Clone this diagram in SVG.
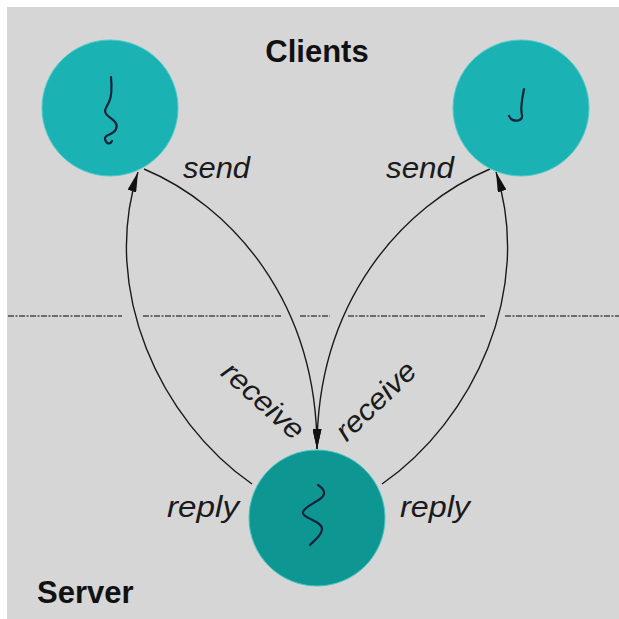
<svg xmlns="http://www.w3.org/2000/svg" width="619" height="619" viewBox="0 0 619 619">
  <style>
    .panel { fill: #d6d6d6; }
    .divider { stroke: #4a4a4a; stroke-width: 1.4; stroke-dasharray: 6 1.5 2 1.5; fill: none; }
    .conn { fill: none; stroke: #1a1a1a; stroke-width: 1.4; marker-end: url(#arrow); }
    .client { fill: #1ab2b2; stroke: #52cccc; stroke-width: 1; }
    .server { fill: #0e9792; stroke: #4cc6c4; stroke-width: 1; }
    .thread { fill: none; stroke: #14233a; stroke-width: 2.2; stroke-linecap: round; stroke-linejoin: round; }
    .title { font-family: "Liberation Sans", Arial, sans-serif; font-weight: bold; font-size: 31px; fill: #111; }
    .label { font-family: "Liberation Sans", Arial, sans-serif; font-style: italic; font-size: 29px; fill: #1a1a1a; }
  </style>
  <defs>
    <marker id="arrow" markerUnits="userSpaceOnUse" markerWidth="20" markerHeight="9" refX="20" refY="4.5" orient="auto" viewBox="0 0 20 9">
      <path d="M0,0 L20,4.5 L0,9 z" fill="#111"/>
    </marker>
  </defs>

  <!-- background panel -->
  <rect class="panel" x="7" y="7" width="612" height="612"/>

  <!-- client / server boundary -->
  <g id="divider">
    <line class="divider" x1="8" y1="316" x2="122" y2="316"/>
    <line class="divider" x1="143" y1="316" x2="282" y2="316"/>
    <line class="divider" x1="300" y1="316" x2="330" y2="316"/>
    <line class="divider" x1="348" y1="316" x2="485" y2="316"/>
    <line class="divider" x1="505" y1="316" x2="619" y2="316"/>
  </g>

  <!-- message connectors -->
  <g id="connectors">
    <path id="send-left" class="conn" d="M144,169 C230,205 317,300 317,449"/>
    <path id="send-right" class="conn" d="M490,169 C404,205 317,300 317,449"/>
    <path id="reply-left" class="conn" d="M252,484 C160,420 100,290 138,172"/>
    <path id="reply-right" class="conn" d="M382,484 C474,420 534,290 496,172"/>
  </g>

  <!-- client processes -->
  <g id="client-left">
    <circle class="client" cx="110" cy="108" r="68"/>
    <path class="thread" d="M111,77 C112,88 112,96 109,102 S103,111 107,115 S119,122 116,129 S104,134 105,139 S110,145 112,141"/>
  </g>
  <g id="client-right">
    <circle class="client" cx="521" cy="108" r="68"/>
    <path class="thread" d="M524,89 C522,100 520,108 522,115 C523,121 515,122 511,119 L509,116"/>
  </g>

  <!-- server process -->
  <g id="server">
    <circle class="server" cx="317" cy="518" r="68"/>
    <path class="thread" d="M318,485 C324,489 327,494 320,499 S299,510 304,515 S322,522 322,529 S313,541 310,545"/>
  </g>

  <!-- labels -->
  <g id="labels">
    <text class="title" x="317" y="62" text-anchor="middle">Clients</text>
    <text class="title" x="37" y="603">Server</text>
    <text class="label" x="183" y="178" textLength="67" lengthAdjust="spacingAndGlyphs">send</text>
    <text class="label" x="386" y="178" textLength="68" lengthAdjust="spacingAndGlyphs">send</text>
    <text class="label" x="167" y="517" textLength="72" lengthAdjust="spacingAndGlyphs">reply</text>
    <text class="label" x="400" y="517" textLength="70" lengthAdjust="spacingAndGlyphs">reply</text>
    <text class="label" transform="translate(262,402) rotate(42)" x="0" y="8" text-anchor="middle" textLength="100" lengthAdjust="spacingAndGlyphs">receive</text>
    <text class="label" transform="translate(377,402) rotate(-44)" x="0" y="8" text-anchor="middle" textLength="100" lengthAdjust="spacingAndGlyphs">receive</text>
  </g>
</svg>
